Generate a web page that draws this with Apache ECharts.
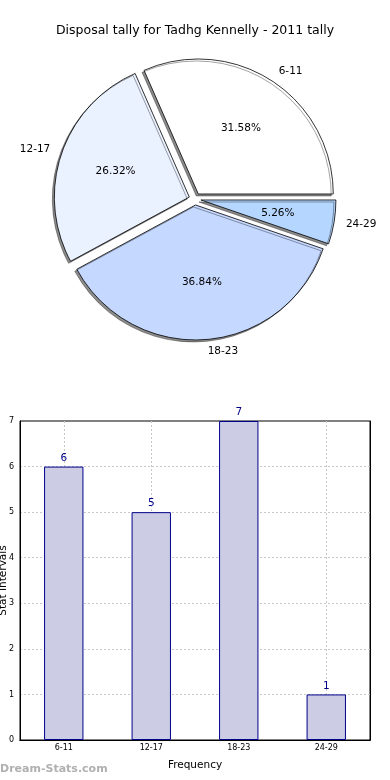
<!DOCTYPE html>
<html><head><meta charset="utf-8">
<script src="https://cdn.jsdelivr.net/npm/echarts@6/dist/echarts.min.js"></script>
<style>html,body{margin:0;padding:0;background:#fff}#c{width:390px;height:780px}</style>
</head><body><div id="c"></div>
<script>
const categories = ['6-11', '12-17', '18-23', '24-29'];
const counts = [6, 5, 7, 1];
const pieColors = ['#ffffff', '#eaf1ff', '#c5d8ff', '#b4d6ff'];
const yTicks = [0, 1, 2, 3, 4, 5, 6, 7];

const total = counts.reduce((a, b) => a + b, 0);
const FONT = 'DejaVu Sans';
const cx = 195, cy = 199, R = 135;

const pieData = categories.map((c, i) => ({
  name: c, value: counts[i], selected: true,
  itemStyle: { color: pieColors[i] }
}));

const chart = echarts.init(document.getElementById('c'), null, { renderer: 'canvas' });
chart.setOption({
  animation: false,
  title: {
    text: 'Disposal tally for Tadhg Kennelly - 2011 tally',
    left: 'center', top: 19,
    textStyle: { fontFamily: FONT, fontSize: 12.5, fontWeight: 'normal', color: '#000' }
  },
  graphic: [{
    type: 'text', left: 0, top: 764,
    style: { text: 'Dream-Stats.com', fontFamily: FONT, fontSize: 11, fontWeight: 'bold', fill: '#b0b0b0' }
  }],
  grid: { left: 20, right: 20, top: 421, bottom: 40, outerBoundsMode: 'none', containLabel: false,
    show: true, borderColor: '#000', borderWidth: 1, backgroundColor: 'transparent' },
  xAxis: [{
    type: 'category', data: categories,
    name: 'Frequency', nameLocation: 'middle', nameGap: 20,
    nameTextStyle: { fontFamily: FONT, fontSize: 10.5, color: '#000' },
    axisLine: { lineStyle: { color: '#000' } },
    axisTick: { show: false },
    axisLabel: { fontFamily: FONT, fontSize: 8, color: '#000', margin: 4 },
    splitLine: { show: true, alignWithLabel: true, lineStyle: { color: '#c8c8c8', type: [2, 2], width: 1 } }
  }, {
    type: 'category', data: categories, position: 'top',
    axisLine: { show: true, lineStyle: { color: '#000' } },
    axisTick: { show: false }, axisLabel: { show: false }, splitLine: { show: false }
  }],
  yAxis: [{
    type: 'value', min: 0, max: 7, interval: 1,
    name: 'Stat Intervals', nameLocation: 'middle', nameGap: 11, nameMoveOverlap: false,
    nameTextStyle: { fontFamily: FONT, fontSize: 10.5, color: '#000' },
    axisLine: { show: true, lineStyle: { color: '#000' } },
    axisTick: { show: false },
    axisLabel: { fontFamily: FONT, fontSize: 8, color: '#000', margin: 6,
      formatter: v => yTicks.includes(v) ? String(v) : '' },
    splitLine: { show: true, showMaxLine: false, showMinLine: false, lineStyle: { color: '#c8c8c8', type: [2, 2], width: 1 } }
  }, {
    type: 'value', min: 0, max: 7, interval: 1, position: 'right',
    axisLine: { show: true, lineStyle: { color: '#000' } },
    axisTick: { show: false }, axisLabel: { show: false }, splitLine: { show: false }
  }],
  series: [
    {
      type: 'pie', center: [cx, cy], radius: [0, R], startAngle: 0, clockwise: false,
      selectedMode: 'multiple', selectedOffset: 6, avoidLabelOverlap: false,
      data: pieData,
      itemStyle: { borderColor: '#000', borderWidth: 0.8, shadowColor: 'rgba(0,0,0,0.45)', shadowOffsetX: -2, shadowOffsetY: 2, shadowBlur: 0 },
      label: { show: true, position: 'outside', fontFamily: FONT, fontSize: 10.5, color: '#000', formatter: '{b}', distanceToLabelLine: 0 },
      labelLine: { show: false, length: 12, length2: 0 },
      emphasis: { disabled: true }, silent: true
    },
    {
      type: 'pie', center: [cx, cy], radius: [R * 0.2, R], startAngle: 0, clockwise: false,
      data: categories.map((c, i) => ({ name: c, value: counts[i] })),
      itemStyle: { color: 'rgba(0,0,0,0)', borderWidth: 0 },
      label: { show: true, position: 'inside', fontFamily: FONT, fontSize: 10.5, color: '#000',
        formatter: p => (p.value / total * 100).toFixed(2) + '%' },
      labelLine: { show: false },
      emphasis: { disabled: true }, silent: true, z: 5
    },
    {
      type: 'bar', data: counts, barWidth: '45%',
      itemStyle: { color: '#ccccE5', borderColor: '#00008b', borderWidth: 1 },
      label: { show: true, position: 'top', distance: 3, fontFamily: FONT, fontSize: 10.5, color: '#00008b' },
      silent: true
    }
  ]
});
</script></body></html>
